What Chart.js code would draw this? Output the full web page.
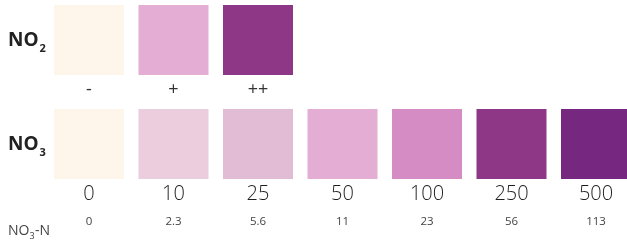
<!DOCTYPE html>
<html>
<head>
<meta charset="utf-8">
<script src="https://cdn.jsdelivr.net/npm/chart.js@4"></script>
<style>
  html, body { margin: 0; padding: 0; background: #fff; overflow: hidden; width: 627px; height: 244px; }
  #wrap { position: relative; width: 627px; height: 244px; overflow: hidden; }
  canvas { position: absolute; left: 0; }
  #top { top: 0; }
  #bottom { top: 100px; }
</style>
</head>
<body>
<div id="wrap">
  <canvas id="top" width="640" height="100"></canvas>
  <canvas id="bottom" width="640" height="144"></canvas>
</div>
<script>
// NO2 row
var no2Labels = ['-', '+', '++'];
var no2Colors = ['#FEF6EA', '#E4AED4', '#8E3787'];

// NO3 row
var no3Labels = ['0', '10', '25', '50', '100', '250', '500'];
var no3Colors = ['#FEF6EA', '#ECCDDD', '#E1BCD4', '#E4AED4', '#D58BC4', '#8E3787', '#762880'];
var no3nLabels = ['0', '2.3', '5.6', '11', '23', '56', '113'];

var textColor = '#333';
var fontFam = '"Open Sans", "Noto Sans", sans-serif';

// row title with subscript, drawn left of the squares
var rowTitle = {
  id: 'rowTitle',
  afterDraw: function(chart, args, opts) {
    var ctx = chart.ctx, area = chart.chartArea;
    ctx.save();
    ctx.fillStyle = '#222';
    ctx.textBaseline = 'alphabetic';
    ctx.textAlign = 'left';
    ctx.font = 'bold 19px ' + fontFam;
    var y = (area.top + area.bottom) / 2 + opts.dy;
    ctx.fillText(opts.main, 8, y);
    var w = ctx.measureText(opts.main).width;
    ctx.font = 'bold 11px ' + fontFam;
    ctx.fillText(opts.sub, 8 + w + 1, y + 6);
    if (opts.unit) {
      ctx.fillStyle = '#444';
      ctx.font = '14px ' + fontFam;
      var uy = opts.unitY;
      ctx.fillText('NO', 8, uy);
      var w2 = ctx.measureText('NO').width;
      ctx.font = '9px ' + fontFam;
      ctx.fillText('3', 8 + w2, uy + 4);
      var w3 = ctx.measureText('3').width;
      ctx.font = '14px ' + fontFam;
      ctx.fillText('-N', 8 + w2 + w3 + 0.5, uy);
    }
    ctx.restore();
  }
};

function baseOptions() {
  return {
    responsive: false,
    animation: false,
    layout: { padding: { left: 46.75, right: 1.75, top: 5, bottom: 0 } },
    plugins: { legend: { display: false }, tooltip: { enabled: false } },
    scales: {
      y: { display: false, min: 0, max: 1 }
    }
  };
}

// top chart: NO2
var padNo2 = no3Labels.map(function(_, i) { return no2Labels[i] || ''; });
var topOpts = baseOptions();
topOpts.plugins.rowTitle = { main: 'NO', sub: '2', dy: 6 };
topOpts.scales.x = {
  grid: { display: false, drawTicks: false },
  border: { display: false },
  ticks: { color: textColor, font: { family: fontFam, size: 18 }, padding: 4, autoSkip: false, maxRotation: 0 },
  afterFit: function(s) { s.height = 25; }
};
new Chart(document.getElementById('top'), {
  type: 'bar',
  data: {
    labels: padNo2,
    datasets: [{
      data: no2Labels.map(function() { return 1; }),
      backgroundColor: no2Colors,
      barPercentage: 70 / 84.5,
      categoryPercentage: 1
    }]
  },
  options: topOpts,
  plugins: [rowTitle]
});

// bottom chart: NO3
var botOpts = baseOptions();
botOpts.layout.padding.top = 9;
botOpts.plugins.rowTitle = { main: 'NO', sub: '3', dy: 6, unit: true, unitY: 135 };
botOpts.scales.x = {
  weight: 0,
  grid: { display: false, drawTicks: false },
  border: { display: false },
  ticks: { color: '#1e1e1e', font: { family: fontFam, size: 20, weight: '300' }, padding: 3, autoSkip: false, maxRotation: 0 },
  afterFit: function(s) { s.height = 30; }
};
botOpts.scales.x2 = {
  type: 'category',
  position: 'bottom',
  weight: 1,
  labels: no3nLabels,
  offset: true,
  grid: { display: false, drawTicks: false },
  border: { display: false },
  ticks: { color: '#444', font: { family: fontFam, size: 11.5 }, padding: 6, autoSkip: false, maxRotation: 0 },
  afterFit: function(s) { s.height = 35; }
};
new Chart(document.getElementById('bottom'), {
  type: 'bar',
  data: {
    labels: no3Labels,
    datasets: [{
      data: no3Labels.map(function() { return 1; }),
      backgroundColor: no3Colors,
      barPercentage: 70 / 84.5,
      categoryPercentage: 1
    }]
  },
  options: botOpts,
  plugins: [rowTitle]
});
</script>
</body>
</html>
